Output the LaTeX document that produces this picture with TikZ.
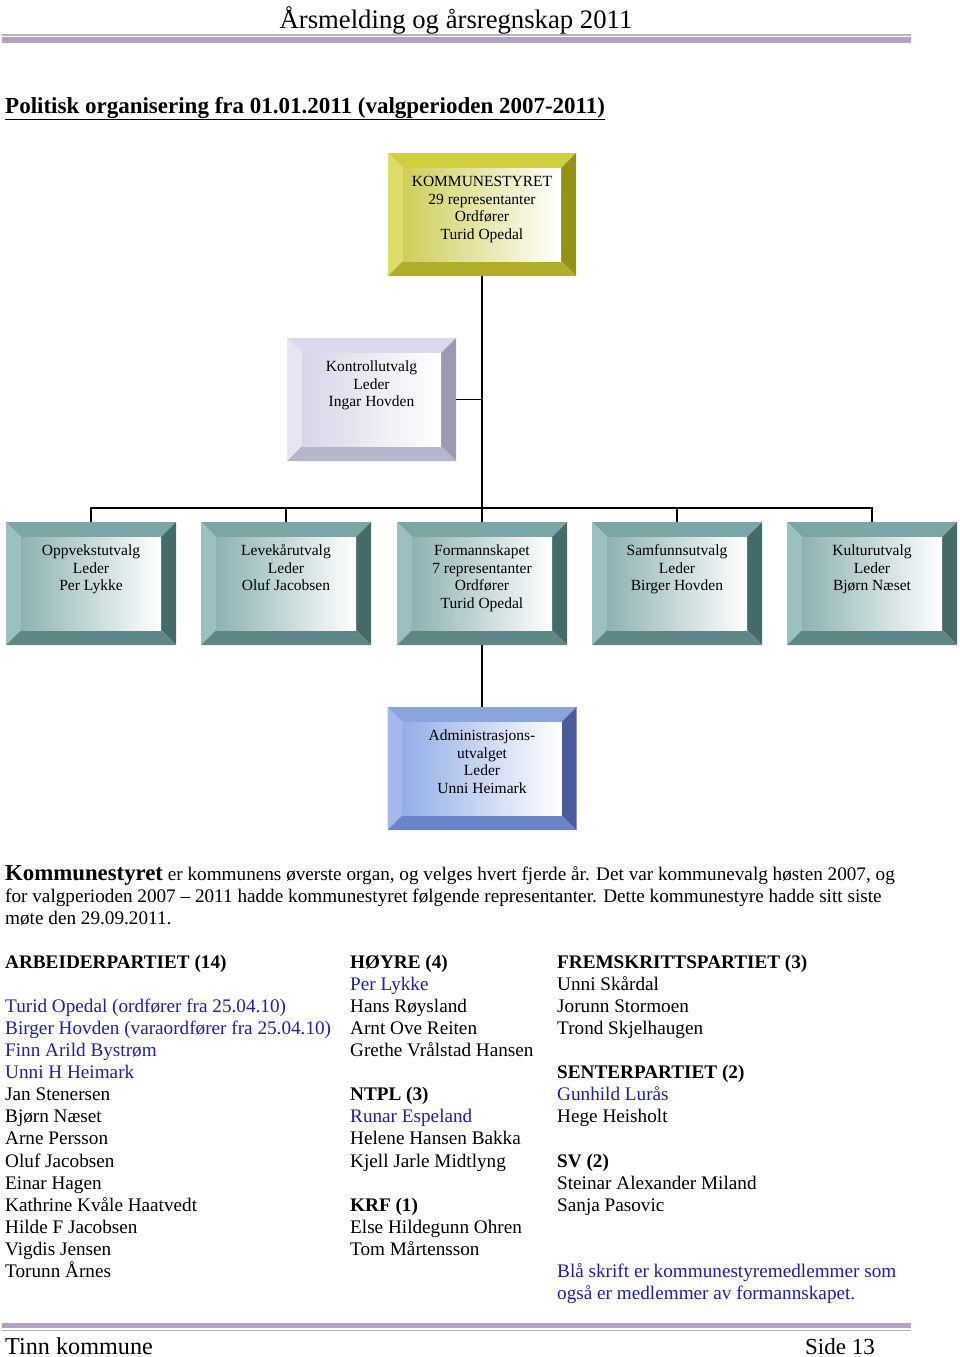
\documentclass[tikz,border=0pt]{standalone}
\usepackage{fontspec}
\setmainfont{Liberation Serif}
\usepackage{tikz}
\usetikzlibrary{positioning}

% colour sets for the bevelled boxes: top, left, right, bottom, inner
\definecolor{kstop}{HTML}{D0D03A}
\definecolor{ksleft}{HTML}{DCDC6A}
\definecolor{ksright}{HTML}{92921A}
\definecolor{ksbot}{HTML}{AEAE28}
\definecolor{ksin}{HTML}{CECE5A}
\definecolor{kotop}{HTML}{DADAEA}
\definecolor{koleft}{HTML}{E6E6F2}
\definecolor{koright}{HTML}{9A9AB2}
\definecolor{kobot}{HTML}{B6B6CA}
\definecolor{koin}{HTML}{D6D6E8}
\definecolor{uttop}{HTML}{7AA6A6}
\definecolor{utleft}{HTML}{9CC0C0}
\definecolor{utright}{HTML}{456A6A}
\definecolor{utbot}{HTML}{5E8888}
\definecolor{utin}{HTML}{8EB2B2}
\definecolor{adtop}{HTML}{8AA4E0}
\definecolor{adleft}{HTML}{A4B8EC}
\definecolor{adright}{HTML}{4A5C9C}
\definecolor{adbot}{HTML}{6A84C8}
\definecolor{adin}{HTML}{94AEE6}
\definecolor{band}{HTML}{B1A0C7}
\definecolor{hdrline}{HTML}{B4B0C2}
\definecolor{memblue}{HTML}{2020A8}

\tikzset{
  orgbox/.style={rectangle, minimum height=123pt, inner sep=0pt,
    path picture={
      \fill[#1top] (path picture bounding box.north west) -- (path picture bounding box.north east)
        -- ([shift={(-15pt,-15pt)}]path picture bounding box.north east)
        -- ([shift={(15pt,-15pt)}]path picture bounding box.north west) -- cycle;
      \fill[#1left] (path picture bounding box.north west) -- ([shift={(15pt,-15pt)}]path picture bounding box.north west)
        -- ([shift={(15pt,15pt)}]path picture bounding box.south west) -- (path picture bounding box.south west) -- cycle;
      \fill[#1right] (path picture bounding box.north east) -- ([shift={(-15pt,-15pt)}]path picture bounding box.north east)
        -- ([shift={(-15pt,15pt)}]path picture bounding box.south east) -- (path picture bounding box.south east) -- cycle;
      \fill[#1bot] (path picture bounding box.south west) -- ([shift={(15pt,15pt)}]path picture bounding box.south west)
        -- ([shift={(-15pt,15pt)}]path picture bounding box.south east) -- (path picture bounding box.south east) -- cycle;
      \shade[left color=#1in, middle color=#1in!30!white, right color=white] ([shift={(15pt,-15pt)}]path picture bounding box.north west)
        rectangle ([shift={(-15pt,15pt)}]path picture bounding box.south east);
    }},
  boxtext/.style={align=center, inner sep=0pt, font=\fontsize{15.5}{17.7}\selectfont},
  link/.style={line width=1.3pt},
  list/.style={anchor=north west, align=left, inner sep=0pt, font=\fontsize{19.2}{22.1}\selectfont},
  bodyline/.style={anchor=base west, inner sep=0pt, font=\fontsize{19.2}{22.1}\selectfont},
}

\begin{document}
\begin{tikzpicture}[x=1pt, y=-1pt]
\useasboundingbox (0,0) rectangle (960,1357);

% header and footer
\node[anchor=base, inner sep=0pt, font=\fontsize{26.7}{30}\selectfont] (head) at (456,28) {Årsmelding og årsregnskap 2011};
\fill[hdrline] (2,34) rectangle (911,35.5);
\fill[band] (2,37) rectangle (911,42.5);
\fill[band] (2,1322.5) rectangle (911,1327.5);
\fill[hdrline] (2,1329.5) rectangle (911,1331);
\node[anchor=base west, inner sep=0pt, font=\fontsize{24.2}{28}\selectfont] (foot) at (5,1354) {Tinn kommune};
\node[anchor=base east, inner sep=0pt, font=\fontsize{23}{26}\selectfont] (page) at (875,1354) {Side 13};

\node[anchor=base west, inner sep=0pt, font=\fontsize{23}{26}\selectfont\bfseries] (title) at (5,113)
  {\underline{Politisk organisering fra 01.01.2011 (valgperioden 2007-2011)}};

% organisation chart
\node[orgbox=ks, minimum width=188pt] (kst) at (482,214.5) {};
\node[boxtext, below=21pt of kst.north] (kst-t) {\strut KOMMUNESTYRET\\29 representanter\\Ordfører\\Turid Opedal};

\node[orgbox=ko, minimum width=169pt] (kon) at (371.5,399.5) {};
\node[boxtext, below=21pt of kon.north] (kon-t) {\strut Kontrollutvalg\\Leder\\Ingar Hovden};

\node[orgbox=ut, minimum width=170pt] (opp) at (91,583.5) {};
\node[boxtext, below=21pt of opp.north] (opp-t) {\strut Oppvekstutvalg\\Leder\\Per Lykke};
\node[orgbox=ut, minimum width=170pt] (lev) at (286,583.5) {};
\node[boxtext, below=21pt of lev.north] (lev-t) {\strut Levekårutvalg\\Leder\\Oluf Jacobsen};
\node[orgbox=ut, minimum width=170pt] (form) at (482,583.5) {};
\node[boxtext, below=21pt of form.north] (form-t) {\strut Formannskapet\\7 representanter\\Ordfører\\Turid Opedal};
\node[orgbox=ut, minimum width=170pt] (sam) at (677,583.5) {};
\node[boxtext, below=21pt of sam.north] (sam-t) {\strut Samfunnsutvalg\\Leder\\Birger Hovden};
\node[orgbox=ut, minimum width=170pt] (kul) at (872,583.5) {};
\node[boxtext, below=21pt of kul.north] (kul-t) {\strut Kulturutvalg\\Leder\\Bjørn Næset};

\node[orgbox=ad, minimum width=189pt] (adm) at (482,768.5) {};
\node[boxtext, below=21pt of adm.north] (adm-t) {\strut Administrasjons-\\utvalget\\Leder\\Unni Heimark};

\coordinate (bar) at (482,508);
\draw[link] (kst) -- (form);
\draw[link] (kon.east) -- (kon.east -| kst.south);
\draw[link] (opp.north) |- (bar) -| (kul.north);
\draw[link] (lev.north) -- (lev.north |- bar);
\draw[link] (sam.north) -- (sam.north |- bar);
\draw[link] (form) -- (adm);

% text below the chart
\node[bodyline] (para1) at (5,880) {{\fontsize{22.8}{26}\selectfont\bfseries Kommunestyret} er kommunens øverste organ, og velges hvert fjerde år. Det var kommunevalg høsten 2007, og};
\node[bodyline] (para2) at (5,902) {for valgperioden 2007 – 2011 hadde kommunestyret følgende representanter. Dette kommunestyre hadde sitt siste};
\node[bodyline] (para3) at (5,924) {møte den 29.09.2011.};

\node[list] (ap) at (5,952.5) {\strut\textbf{ARBEIDERPARTIET (14)}\\
  \mbox{}\\
  \textcolor{memblue}{Turid Opedal (ordfører fra 25.04.10)}\\
  \textcolor{memblue}{Birger Hovden (varaordfører fra 25.04.10)}\\
  \textcolor{memblue}{Finn Arild Bystrøm}\\
  \textcolor{memblue}{Unni H Heimark}\\
  Jan Stenersen\\
  Bjørn Næset\\
  Arne Persson\\
  Oluf Jacobsen\\
  Einar Hagen\\
  Kathrine Kvåle Haatvedt\\
  Hilde F Jacobsen\\
  Vigdis Jensen\\
  Torunn Årnes};

\node[list] (hr) at (350,952.5) {\strut\textbf{HØYRE (4)}\\
  \textcolor{memblue}{Per Lykke}\\
  Hans Røysland\\
  Arnt Ove Reiten\\
  Grethe Vrålstad Hansen\\
  \mbox{}\\
  \textbf{NTPL (3)}\\
  \textcolor{memblue}{Runar Espeland}\\
  Helene Hansen Bakka\\
  Kjell Jarle Midtlyng\\
  \mbox{}\\
  \textbf{KRF (1)}\\
  Else Hildegunn Ohren\\
  Tom Mårtensson};

\node[list] (frp) at (557,952.5) {\strut\textbf{FREMSKRITTSPARTIET (3)}\\
  Unni Skårdal\\
  Jorunn Stormoen\\
  Trond Skjelhaugen\\
  \mbox{}\\
  \textbf{SENTERPARTIET (2)}\\
  \textcolor{memblue}{Gunhild Lurås}\\
  Hege Heisholt\\
  \mbox{}\\
  \textbf{SV (2)}\\
  Steinar Alexander Miland\\
  Sanja Pasovic\\
  \mbox{}\\
  \mbox{}\\
  \textcolor{memblue}{Blå skrift er kommunestyremedlemmer som}\\
  \textcolor{memblue}{også er medlemmer av formannskapet.}};
\end{tikzpicture}
\end{document}
